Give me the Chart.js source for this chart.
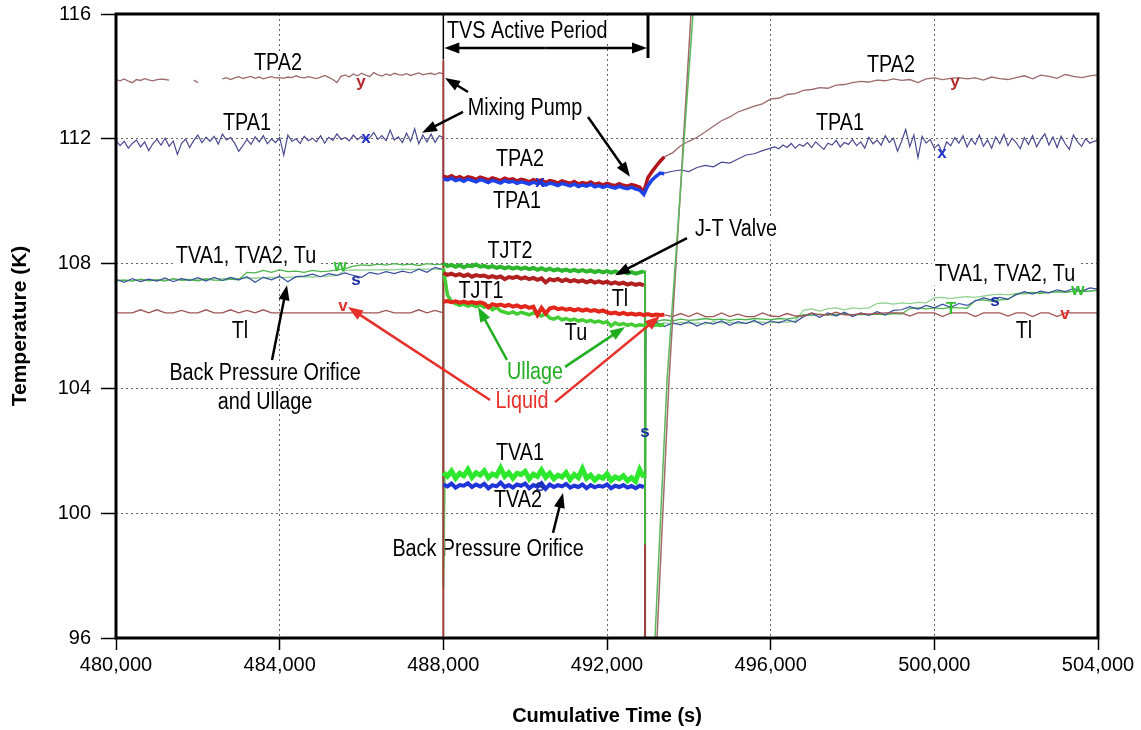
<!DOCTYPE html>
<html><head><meta charset="utf-8">
<script src="https://cdn.jsdelivr.net/npm/chart.js@4.4.0/dist/chart.umd.min.js"></script>
<style>html,body{margin:0;padding:0;background:#fff;}canvas{display:block;}</style>
</head><body>
<canvas id="c" width="1141" height="730"></canvas>
<script>
function range(a, b, s) { const r = []; for (let t = a; t <= b + 1e-6; t += s) r.push(t); return r; }

// ---- time grids (sample times, s) ----
const PRE100 = range(480000, 488000, 100);
const PRE200 = range(480000, 488000, 200);
const TVS100 = range(488000, 492900, 100);
const TVS100X = range(488000, 493400, 100);
const POST200 = range(493000, 504000, 200);
const POST200B = range(493400, 504000, 200);
const TPA1_POST_T = range(493400, 496000, 200).concat(range(496100, 504000, 100));

// ---- axis ticks ----
const xTicks = [480000, 484000, 488000, 492000, 496000, 500000, 504000];
const yTicks = [96, 100, 104, 108, 112, 116];

// ---- TPA1 / TPA2 (K) ----
const TPA1_pre = [
111.95,111.78,111.92,111.70,111.85,111.96,111.74,111.90,111.62,111.84,
111.98,111.80,112.02,111.76,111.93,111.50,111.85,111.99,111.72,111.95,
112.12,111.88,112.05,111.92,112.08,111.83,112.15,111.96,112.04,111.86,
111.60,111.78,111.98,111.82,112.06,111.90,112.10,111.84,111.99,111.88,
112.04,111.48,112.12,111.92,112.00,111.85,112.08,111.94,112.02,111.90,
112.10,111.86,112.05,111.95,112.16,111.98,112.04,111.93,112.12,111.97,
112.08,111.96,112.03,112.20,111.98,112.10,111.94,112.28,111.96,112.06,
111.88,112.18,111.92,112.32,111.84,112.12,111.90,112.15,111.88,112.10,
112.05];
const TPA2_pre = [
113.90,113.86,113.92,113.85,113.80,113.90,113.87,113.93,113.89,113.86,
113.90,113.91,113.90,113.88,null,null,null,null,null,113.88,
113.80,null,null,null,null,null,113.92,113.96,113.90,113.95,
113.99,113.93,113.97,114.00,113.94,113.98,113.92,113.96,113.99,113.95,
113.96,113.94,113.98,113.96,114.02,113.97,113.95,113.99,113.96,113.93,
113.98,114.03,113.97,113.90,113.80,114.00,114.05,113.98,114.08,114.02,
114.10,114.04,113.99,114.12,114.05,114.01,114.08,114.03,114.10,114.06,
114.04,114.09,114.03,114.07,114.11,114.05,114.08,114.10,114.06,114.12,
114.08];
const TPA2_tvs = [
110.80,110.76,110.82,110.74,110.79,110.72,110.78,110.75,110.70,110.77,
110.73,110.68,110.75,110.71,110.66,110.74,110.69,110.72,110.65,110.70,
110.67,110.62,110.69,110.64,110.68,110.60,110.66,110.63,110.58,110.65,
110.61,110.57,110.63,110.55,110.60,110.56,110.62,110.54,110.58,110.52,
110.57,110.53,110.50,110.56,110.51,110.48,110.53,110.50,110.45,110.30,
110.75,110.95,111.12,111.28,111.42];
const TPA1_tvs = [
110.72,110.68,110.74,110.66,110.70,110.64,110.71,110.67,110.62,110.69,
110.65,110.60,110.67,110.63,110.58,110.66,110.61,110.64,110.57,110.62,
110.59,110.55,110.61,110.56,110.60,110.52,110.58,110.55,110.50,110.57,
110.53,110.49,110.55,110.47,110.52,110.48,110.54,110.46,110.50,110.44,
110.49,110.45,110.42,110.48,110.43,110.40,110.45,110.39,110.36,110.22,
110.50,110.68,110.80,110.90,110.88];
const TPA2_post = [
111.42,111.55,111.78,111.92,112.05,112.22,112.40,112.58,112.70,112.86,
112.95,113.05,113.12,113.28,113.30,113.42,113.45,113.55,113.58,113.64,
113.62,113.72,113.74,113.80,113.84,113.82,113.88,113.86,113.92,113.87,
113.90,113.80,113.92,113.95,113.90,113.94,113.96,113.92,113.95,113.88,
113.98,113.93,113.90,113.96,114.02,113.92,114.04,114.00,113.94,114.06,
114.00,113.96,114.02,114.05];
const TPA1_post = [
110.90,110.96,111.00,110.95,111.08,111.15,111.10,111.25,111.22,111.35,111.48,111.52,111.62,111.70,
111.74,111.68,111.80,111.72,111.85,111.70,111.82,111.76,111.88,
111.72,111.90,111.78,111.66,111.86,111.80,111.95,111.74,111.88,111.82,
111.98,111.78,111.90,111.70,112.05,111.84,111.96,111.80,112.10,111.88,
112.02,111.60,111.92,112.30,111.75,112.12,111.40,112.08,111.86,111.98,
111.70,111.82,111.54,111.90,111.78,112.04,111.86,112.10,111.74,112.00,
111.82,112.12,111.76,111.96,111.70,112.06,111.84,112.14,111.78,112.02,
111.88,111.68,112.04,111.82,112.10,111.74,111.98,112.16,111.80,112.06,
111.72,112.08,111.84,111.66,112.12,111.90,111.76,112.00,111.86,111.92,
111.95];

// ---- Liquid Tl / Ullage Tu / vent TVA1, TVA2 / J-T valve TJT1, TJT2 (K) ----
const Tl_pre = [
106.42,106.42,106.42,106.52,106.42,106.52,106.42,106.42,106.50,106.42,
106.42,106.52,106.42,106.42,106.52,106.42,106.50,106.42,106.52,106.42,
106.42,106.42,106.42,106.42,106.42,106.42,106.42,106.42,106.42,106.42,
106.42,106.42,106.42,106.50,106.42,106.42,106.42,106.52,106.42,106.50,
106.42];
const Tl_tvs = [
106.78,106.80,106.76,106.79,106.75,106.78,106.74,106.77,106.73,106.76,
106.72,106.60,106.70,106.66,106.69,106.64,106.68,106.62,106.66,106.60,
106.64,106.58,106.62,106.35,106.58,106.40,106.56,106.60,106.54,106.57,
106.52,106.55,106.50,106.54,106.49,106.53,106.48,106.51,106.46,106.50,
106.44,106.40,106.43,106.38,106.42,106.37,106.40,106.36,106.39,106.35,
106.38,106.34,106.37,106.35,106.36];
const Tl_post = [
106.36,106.30,106.40,106.30,106.42,106.30,106.30,106.42,106.30,106.38,
106.30,106.30,106.42,106.32,106.30,106.40,106.32,106.32,106.42,106.36,
106.36,106.44,106.36,106.36,106.40,106.38,106.40,106.42,106.42,106.42,
106.32,106.42,106.42,106.42,106.30,106.42,106.42,106.42,106.30,106.42,
106.42,106.42,106.32,106.42,106.42,106.30,106.42,106.42,106.30,106.42,
106.42,106.42,106.42,106.42];
const Tu_pre = [
107.45,107.47,107.44,107.50,107.45,107.48,107.44,107.52,107.46,107.48,107.45,107.50,107.47,107.46,107.50,107.48,
107.72,107.70,107.78,107.72,107.80,107.74,107.76,107.72,107.78,107.74,107.76,107.80,107.84,
107.92,107.96,107.94,107.98,107.95,108.00,107.96,107.98,107.94,108.00,107.97,107.98];
const Tu_tvs = [
107.85,107.00,106.78,106.72,106.66,106.70,106.64,106.68,106.62,106.68,
106.60,106.65,106.52,106.60,106.48,106.44,106.40,106.45,106.38,106.44,
106.40,106.36,106.42,106.38,106.32,106.40,106.26,106.22,106.28,106.20,
106.24,106.18,106.22,106.16,106.20,106.14,106.18,106.12,106.16,106.10,
106.14,106.00,106.10,106.04,106.08,106.02,106.06,106.00,106.04,106.02,
106.05,106.00,106.04,106.02,106.05];
const Tu_post = [
106.18,106.15,106.20,106.16,106.22,106.18,106.20,106.24,106.20,106.22,106.18,106.22,106.20,106.24,106.22,106.20,106.24,106.22,106.26,
106.36,106.34,106.38,106.35,106.36,106.40,106.35,106.37,106.36,106.38,106.36,106.40,106.38,
106.56,106.58,106.55,106.58,106.56,106.60,106.58,106.57,
106.82,106.84,106.80,106.84,106.85,
107.04,107.06,107.08,107.05,107.08,107.10,107.08,107.12,107.10,107.12,107.14];
const TVA1_pre = [
107.46,107.47,107.46,107.48,107.47,107.48,107.48,107.49,107.50,107.49,107.50,107.52,107.51,107.52,
107.53,107.52,107.54,107.53,107.55,107.56,107.55,107.56,107.57,107.58,107.57,107.58,107.60,107.62,
107.78,107.80,107.79,107.80,107.80,107.81,107.80,107.82,107.81,107.82,107.82,107.83,107.82];
const TVA1_tvs = [
101.30,101.18,101.35,101.12,101.28,101.20,101.40,101.15,101.30,101.22,
101.36,101.14,101.26,101.20,101.45,101.18,101.30,101.12,101.28,101.24,
101.34,101.10,101.25,101.18,101.38,101.15,101.28,101.10,101.22,101.16,
101.30,101.08,101.24,101.14,101.42,101.12,101.22,101.06,101.18,101.12,
101.26,101.05,101.16,101.10,101.20,101.04,101.14,101.02,101.40,101.15];
const TVA1_post = [
106.08,106.05,106.10,106.06,106.12,106.08,106.10,106.06,106.14,106.10,106.12,106.08,106.10,106.14,106.12,106.10,106.14,106.12,106.16,
106.50,106.55,106.48,106.56,106.58,106.52,106.58,106.56,106.58,
106.72,106.74,106.70,106.74,106.72,106.76,106.74,
106.90,106.92,106.88,106.92,106.94,106.92,106.96,
107.00,107.02,107.00,107.04,107.02,107.06,107.08,107.06,107.10,107.08,107.12,107.14,107.12,107.16];
const TVA2_pre = [
107.50,107.40,107.52,107.42,107.50,107.44,107.54,107.42,107.52,107.46,107.55,107.44,
107.56,107.46,107.56,107.48,107.58,107.40,107.56,107.48,107.60,107.42,107.58,
107.60,107.66,107.58,107.68,107.62,107.70,107.62,107.56,107.72,107.66,107.74,107.68,
107.76,107.70,107.82,107.72,107.88,107.80];
const TVA2_tvs = [
100.92,100.86,100.95,100.82,100.90,100.88,100.96,100.84,100.92,100.86,
100.94,100.80,100.90,100.86,100.98,100.84,100.90,100.82,100.92,100.88,
100.95,100.80,100.90,100.85,100.96,100.78,100.92,100.84,100.90,100.86,
100.94,100.82,100.88,100.84,100.92,100.80,100.90,100.83,100.88,100.85,
100.92,100.80,100.88,100.84,100.90,100.82,100.87,100.80,100.88,100.84];
const TVA2_post = [
106.02,106.12,105.98,106.10,106.04,106.14,106.00,106.12,106.06,106.16,106.02,106.14,106.08,106.18,106.04,106.16,106.10,106.20,106.12,
106.30,106.40,106.28,106.42,106.32,106.44,106.30,106.42,106.34,106.46,106.36,106.50,106.52,
106.62,106.54,106.66,106.58,106.70,106.60,106.72,106.66,
106.80,106.90,106.84,106.92,106.86,
107.00,107.10,107.02,107.12,107.06,107.16,107.10,107.20,107.12,107.22,107.18];
const TJT2_tvs = [
108.00,107.92,107.96,107.90,107.95,107.88,107.94,107.92,107.97,107.90,
107.93,107.88,107.92,107.86,107.90,107.85,107.89,107.84,107.88,107.83,
107.87,107.82,107.86,107.80,107.85,107.79,107.84,107.78,107.82,107.77,
107.81,107.76,107.80,107.75,107.79,107.74,107.78,107.73,107.77,107.72,
107.76,107.71,107.75,107.70,107.74,107.69,107.73,107.68,107.72,107.75];
const TJT1_tvs = [
107.70,107.64,107.68,107.62,107.66,107.60,107.65,107.58,107.63,107.60,
107.62,107.56,107.60,107.55,107.59,107.50,107.57,107.54,107.58,107.52,
107.56,107.50,107.54,107.48,107.53,107.40,107.50,107.46,107.51,107.44,
107.49,107.43,107.47,107.42,107.46,107.40,107.45,107.39,107.43,107.38,
107.42,107.36,107.40,107.35,107.39,107.33,107.37,107.32,107.35,107.30];

// ---- step changes at TVS start / end: [time, K] ----
const jumpTPA2 = [[488000,114.08],[488000,114.52],[488000,96]];
const jumpTPA1 = [[488000,112.05],[488000,110.72]];
const jumpTVA1a = [[488000,107.82],[488000,97.6],[488040,101.3]];
const jumpTVA2a = [[488000,107.80],[488000,100.92]];
const dropTJT2 = [[492900,107.75],[492930,107.75],[492930,99.0]];
const dropTJT1 = [[492900,107.30],[492930,107.30],[492930,96]];
const riseTVA1 = [[492900,101.15],[492930,101.15],[492950,106.1],[493000,106.08]];
const riseTVA2 = [[492900,100.84],[492930,100.84],[492960,106.0],[493000,106.02]];
const sweepG = [[493173,96],[493467,104.27],[494102,116]];
const sweepB = [[493222,96],[493516,104.27],[494053,116]];

// ---- annotations (data coordinates) ----
const labelTexts  = ['TVS Active Period','TPA2','TPA1','Mixing Pump','TPA2','TPA1','TPA2','TPA1','TVA1, TVA2, Tu','Tl','Back Pressure Orifice','and Ullage','TJT2','TJT1','Tl','Tu','J-T Valve','Ullage','Liquid','TVA1, TVA2, Tu','Tl','TVA1','TVA2','Back Pressure Orifice'];
const labelTimes  = [488090,483959,483202,489996,489874,489800,498941,497695,483177,483031,483642,483642,489629,488921,492318,491242,495153,490240,489923,501727,502191,489874,489825,489092];
const labelValues = [115.46,114.43,112.51,112.99,111.35,110.01,114.37,112.51,108.24,105.84,104.49,103.56,108.40,107.12,106.87,105.78,109.11,104.53,103.60,107.67,105.84,101.93,100.42,98.85];
const labelColors = ['#000','#000','#000','#000','#000','#000','#000','#000','#000','#000','#000','#000','#000','#000','#000','#000','#000','#1fae1f','#e8302a','#000','#000','#000','#000','#000'];
const labelAlign  = ['left'];

const markerTexts  = ['y','y','x','x','x','v','v','s','s','s','s','w','w','T'];
const markerTimes  = [485988,500505,486110,500188,490363,485548,503194,485866,501484,492930,490363,485475,503510,500408];
const markerValues = [113.80,113.80,112.00,111.55,110.62,106.62,106.36,107.48,106.80,102.60,100.85,107.92,107.15,106.55];
const markerColors = ['#b5282e','#b5282e','#2233cc','#2233cc','#2233cc','#e0302a','#e0302a','#1c2fa0','#1c2fa0','#1c2fa0','#1c2fa0','#33c033','#33c033','#33c033'];

// arrows: [t1, v1, t2, v2, colour]  head at (t2, v2)
const arrows = [
 [488603,113.50,488041,113.95,'#000'],
 [488481,112.86,487479,112.19,'#000'],
 [491536,112.70,492562,110.78,'#000'],
 [483813,104.91,484179,107.31,'#000'],
 [489141,103.63,485670,106.61,'#e8302a'],
 [490730,103.56,493296,106.32,'#e8302a'],
 [489556,104.91,488847,106.61,'#1fae1f'],
 [490974,104.69,492440,105.97,'#1fae1f'],
 [493955,108.82,492196,107.63,'#000'],
 [490680,99.37,490925,100.65,'#000']
];
const tvsStart = 488000, tvsEnd = 493002, tvsArrowV = 114.91;

const FAM = '"Liberation Sans", Arial, sans-serif';
const FS = 20;

function pts(times, vals) { return times.map((t, i) => ({ x: t, y: vals[i] })); }
function pairs(arr) { return arr.map(p => ({ x: p[0], y: p[1] })); }
function ds(label, data, color, width) {
  return { label, data, borderColor: color, backgroundColor: color, borderWidth: width, pointRadius: 0, tension: 0, fill: false, spanGaps: false };
}

const datasets = [
  ds('TPA1 TVS', pts(TVS100X, TPA1_tvs), '#1d43e8', 3.5),
  ds('TPA2 TVS', pts(TVS100X, TPA2_tvs), '#b3151a', 3.5),
  ds('TVA1 TVS', pts(TVS100, TVA1_tvs), '#2ee82e', 5),
  ds('TVA2 TVS', pts(TVS100, TVA2_tvs), '#1f35d8', 4),
  ds('TJT2', pts(TVS100, TJT2_tvs), '#2db52d', 4),
  ds('TJT1', pts(TVS100, TJT1_tvs), '#b02020', 4),
  ds('Tl TVS', pts(TVS100X, Tl_tvs), '#e3261b', 4),
  ds('Tu TVS', pts(TVS100X, Tu_tvs), '#44cc33', 3.5),
  ds('j1', pairs(jumpTPA2), '#9e3a3a', 2),
  ds('j2', pairs(jumpTPA1), '#4a4a90', 1.5),
  ds('j3', pairs(jumpTVA1a), '#6fd66f', 2),
  ds('j4', pairs(jumpTVA2a), '#3a4fa0', 1.5),
  ds('d1', pairs(dropTJT2), '#3cb83c', 2),
  ds('d2', pairs(dropTJT1), '#9e3a3a', 2),
  ds('r1', pairs(riseTVA1), '#6fd66f', 1.5),
  ds('r2', pairs(riseTVA2), '#3a4fa0', 1.5),
  ds('sweep G', pairs(sweepG), '#5cb85c', 1.5),
  ds('sweep B', pairs(sweepB), '#a06b6b', 1.5),
  ds('TPA2', pts(PRE100, TPA2_pre), '#9c6b6b', 1.3),
  ds('TPA2 post', pts(POST200B, TPA2_post), '#9c6b6b', 1.3),
  ds('TPA1', pts(PRE100, TPA1_pre), '#4a4a90', 1.2),
  ds('TPA1 post', pts(TPA1_POST_T, TPA1_post), '#4a4a90', 1.2),
  ds('Tl', pts(PRE200, Tl_pre), '#a05555', 1.3),
  ds('Tl post', pts(POST200B, Tl_post), '#a05555', 1.3),
  ds('TVA2', pts(PRE200, TVA2_pre), '#3a4fa0', 1.2),
  ds('TVA2 post', pts(POST200, TVA2_post), '#3a4fa0', 1.2),
  ds('Tu', pts(PRE200, Tu_pre), '#4db34d', 1.3),
  ds('Tu post', pts(POST200, Tu_post), '#4db34d', 1.3),
  ds('TVA1', pts(PRE200, TVA1_pre), '#8fd18f', 1.3),
  ds('TVA1 post', pts(POST200, TVA1_post), '#8fd18f', 1.3)
];

function arrow(ctx, x1, y1, x2, y2, color, lw) {
  const a = Math.atan2(y2 - y1, x2 - x1), L = 15, W = 5.5;
  ctx.strokeStyle = color; ctx.fillStyle = color; ctx.lineWidth = lw;
  ctx.beginPath(); ctx.moveTo(x1, y1);
  ctx.lineTo(x2 - (L - 2) * Math.cos(a), y2 - (L - 2) * Math.sin(a)); ctx.stroke();
  ctx.beginPath(); ctx.moveTo(x2, y2);
  ctx.lineTo(x2 - L * Math.cos(a) + W * Math.sin(a), y2 - L * Math.sin(a) - W * Math.cos(a));
  ctx.lineTo(x2 - L * Math.cos(a) - W * Math.sin(a), y2 - L * Math.sin(a) + W * Math.cos(a));
  ctx.closePath(); ctx.fill();
}

// condensed-looking text: taller font squeezed horizontally
const LS = 23, SQ = 0.86;
const annot = {
  id: 'annot',
  beforeDatasetsDraw(chart) {
    const { ctx, scales: { x, y } } = chart;
    ctx.save();
    ctx.font = LS + 'px ' + FAM;
    ctx.textBaseline = 'middle';
    labelTexts.forEach((txt, i) => {
      const px = x.getPixelForValue(labelTimes[i]), py = y.getPixelForValue(labelValues[i]);
      const al = labelAlign[i] || 'center';
      const w = ctx.measureText(txt).width * SQ;
      const left = al === 'left' ? px : px - w / 2;
      ctx.fillStyle = '#fff';
      ctx.fillRect(left - 3, py - LS * 0.5, w + 6, LS * 1.0);
      ctx.save();
      ctx.translate(left, py + 1);
      ctx.scale(SQ, 1);
      ctx.fillStyle = labelColors[i];
      ctx.textAlign = 'left';
      ctx.fillText(txt, 0, 0);
      ctx.restore();
    });
    ctx.restore();
  },
  afterDatasetsDraw(chart) {
    const { ctx, chartArea: ca, scales: { x, y } } = chart;
    ctx.save();
    ctx.font = 'bold 17px "Liberation Sans", Arial, sans-serif';
    ctx.textAlign = 'center'; ctx.textBaseline = 'middle';
    markerTexts.forEach((m, i) => {
      ctx.fillStyle = markerColors[i];
      ctx.fillText(m, x.getPixelForValue(markerTimes[i]), y.getPixelForValue(markerValues[i]));
    });
    arrows.forEach(a => arrow(ctx, x.getPixelForValue(a[0]), y.getPixelForValue(a[1]), x.getPixelForValue(a[2]), y.getPixelForValue(a[3]), a[4], 2.5));
    const xs = x.getPixelForValue(tvsStart), xe = x.getPixelForValue(tvsEnd), ya = y.getPixelForValue(tvsArrowV);
    ctx.strokeStyle = '#000'; ctx.lineWidth = 1.5;
    ctx.beginPath(); ctx.moveTo(xs, ca.top); ctx.lineTo(xs, y.getPixelForValue(114.55)); ctx.stroke();
    ctx.lineWidth = 3;
    ctx.beginPath(); ctx.moveTo(xe, ca.top); ctx.lineTo(xe, ya + 10); ctx.stroke();
    arrow(ctx, (xs + xe) / 2, ya, xs + 1, ya, '#000', 2.5);
    arrow(ctx, (xs + xe) / 2, ya, xe - 1, ya, '#000', 2.5);
    ctx.strokeStyle = '#000'; ctx.lineWidth = 3;
    ctx.strokeRect(ca.left, ca.top, ca.right - ca.left, ca.bottom - ca.top);
    ctx.restore();
  }
};

const tickFont = { family: FAM, size: FS };
const titleFont = { family: FAM, size: 20, weight: 'bold' };

new Chart(document.getElementById('c'), {
  type: 'line',
  data: { datasets },
  options: {
    responsive: false, animation: false, devicePixelRatio: 1, events: [],
    layout: { padding: { top: 14, right: 43, left: 0, bottom: 0 } },
    plugins: { legend: { display: false }, tooltip: { enabled: false } },
    scales: {
      x: {
        type: 'linear', min: xTicks[0], max: xTicks[xTicks.length - 1],
        afterBuildTicks: s => { s.ticks = xTicks.map(v => ({ value: v })); },
        afterFit: s => { s.height = 92; s.paddingLeft = 0; s.paddingRight = 0; },
        ticks: { color: '#000', font: tickFont, padding: 3, maxRotation: 0, callback: v => Number(v).toLocaleString('en-US') },
        grid: { color: '#666', lineWidth: 1, tickColor: '#000', tickLength: 12, tickWidth: 1.5, tickBorderDash: [], drawTicks: true },
        border: { display: false, dash: [2, 3] },
        title: { display: true, text: 'Cumulative Time (s)', color: '#000', font: titleFont, padding: { top: 0, bottom: 2 } }
      },
      y: {
        type: 'linear', min: yTicks[0], max: yTicks[yTicks.length - 1],
        afterBuildTicks: s => { s.ticks = yTicks.map(v => ({ value: v })); },
        afterFit: s => { s.width = 116; s.paddingTop = 0; s.paddingBottom = 0; },
        ticks: { color: '#000', font: tickFont, padding: 10 },
        grid: { color: '#666', lineWidth: 1, tickColor: '#000', tickLength: 15, tickWidth: 1.5, tickBorderDash: [], drawTicks: true },
        border: { display: false, dash: [2, 3] },
        title: { display: true, text: 'Temperature (K)', color: '#000', font: { family: FAM, size: 21, weight: 'bold' }, padding: { top: 8, bottom: 0 } }
      }
    }
  },
  plugins: [annot]
});
</script>
</body></html>
